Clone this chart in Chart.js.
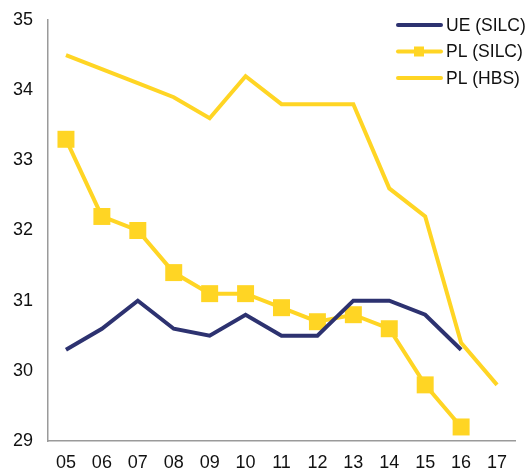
<!DOCTYPE html>
<html>
<head>
<meta charset="utf-8">
<script src="https://cdn.jsdelivr.net/npm/chart.js@4"></script>
<style>
  html, body { margin: 0; padding: 0; background: #fff; }
  #wrap { width: 527px; height: 468px; }
</style>
</head>
<body>
<div id="wrap"><canvas id="povertyChart" width="527" height="468"></canvas></div>
<script>
const years = ['05', '06', '07', '08', '09', '10', '11', '12', '13', '14', '15', '16', '17'];
const ueSilc = [30.3, 30.6, 31.0, 30.6, 30.5, 30.8, 30.5, 30.5, 31.0, 31.0, 30.8, 30.3, null];
const plSilc = [33.3, 32.2, 32.0, 31.4, 31.1, 31.1, 30.9, 30.7, 30.8, 30.6, 29.8, 29.2, null];
const plHbs = [34.5, 34.3, 34.1, 33.9, 33.6, 34.2, 33.8, 33.8, 33.8, 32.6, 32.2, 30.4, 29.8];

const navy = '#2d3270';
const yellow = '#ffd524';
const font = 'Arial, "Liberation Sans", sans-serif';

// legend drawn over the top right corner of the plot
const overlayLegend = {
    id: 'overlayLegend',
    afterDraw(chart) {
        const c = chart.ctx;
        c.save();
        c.font = '17.5px ' + font;
        c.textBaseline = 'middle';
        c.fillStyle = '#111';
        chart.data.datasets.forEach((ds, i) => {
            const y = 25 + i * 26.5;
            c.strokeStyle = ds.borderColor;
            c.lineWidth = 4;
            c.lineCap = 'round';
            c.beginPath();
            c.moveTo(398, y);
            c.lineTo(441, y);
            c.stroke();
            if (ds.pointRadius > 0) {
                c.fillStyle = ds.borderColor;
                c.fillRect(414, y - 5, 10, 10);
                c.fillStyle = '#111';
            }
            c.fillText(ds.label, 446, y + 1);
        });
        c.restore();
    }
};

new Chart(document.getElementById('povertyChart'), {
    type: 'line',
    data: {
        labels: years,
        datasets: [
            {label: 'UE (SILC)', data: ueSilc, borderColor: navy, backgroundColor: navy, borderWidth: 4, pointRadius: 0},
            {label: 'PL (SILC)', data: plSilc, borderColor: yellow, backgroundColor: yellow, borderWidth: 4,
                pointStyle: 'rect', pointRadius: 12, pointBorderWidth: 0, pointHoverRadius: 12},
            {label: 'PL (HBS)', data: plHbs, borderColor: yellow, backgroundColor: yellow, borderWidth: 4, pointRadius: 0}
        ]
    },
    options: {
        responsive: false,
        animation: false,
        layout: {padding: {top: 20, right: 3, left: 0, bottom: 0}},
        plugins: {legend: {display: false}, tooltip: {enabled: false}},
        scales: {
            x: {
                offset: true,
                grid: {display: false, drawTicks: false},
                border: {color: '#9a9a9a', width: 1.5},
                ticks: {color: '#111', font: {size: 18, family: font}, padding: 11, maxRotation: 0, autoSkip: false},
                afterFit: scale => { scale.height = 27; scale.paddingLeft = 0; scale.paddingRight = 0; }
            },
            y: {
                min: 29, max: 35,
                grid: {display: false, drawTicks: false},
                border: {color: '#9a9a9a', width: 1.5},
                ticks: {stepSize: 1, color: '#111', font: {size: 18, family: font}, padding: 15},
                afterFit: scale => { scale.width = 48; scale.paddingTop = 0; scale.paddingBottom = 0; }
            }
        }
    },
    plugins: [overlayLegend]
});
</script>
</body>
</html>
